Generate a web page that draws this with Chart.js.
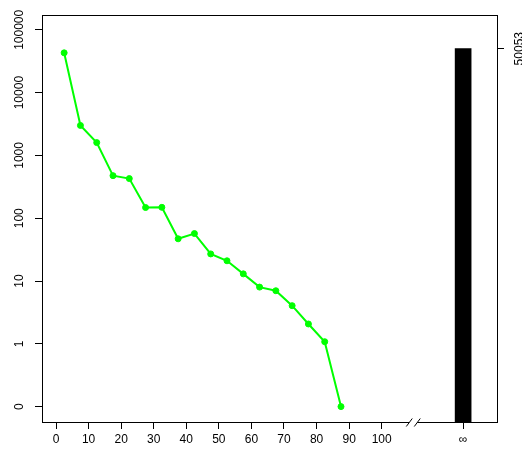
<!DOCTYPE html>
<html>
<head>
<meta charset="utf-8">
<script src="https://cdn.jsdelivr.net/npm/chart.js@4/dist/chart.umd.min.js"></script>
<style>
  html, body { margin: 0; padding: 0; background: #fff; }
  #wrap { width: 522px; height: 452px; }
</style>
</head>
<body>
<div id="wrap"><canvas id="chart" width="522" height="452"></canvas></div>
<script>
// bin midpoints and counts
var binMids = [2.5, 7.5, 12.5, 17.5, 22.5, 27.5, 32.5, 37.5, 42.5, 47.5, 52.5, 57.5, 62.5, 67.5, 72.5, 77.5, 82.5, 87.5]
var counts = [43000, 3000, 1600, 476, 428, 148, 149, 47, 57, 27, 21, 13, 8, 7, 4.05, 2.07, 1.08, 0]
var xTicks = [0, 10, 20, 30, 40, 50, 60, 70, 80, 90, 100]
var yTickLabels = ['0', '1', '10', '100', '1000', '10000', '100000']
var infLabel = '∞'
var infX = 125
var infCount = 50053
var breakX = 110

// log axis with a slot for zero: 0 -> 0, 1 -> 1, 10 -> 2 ...
function tf(v) {
  return v > 0 ? Math.log10(v) + 1 : 0
}

var Y_MIN = -0.245
var Y_MAX = 6.236
var FONT = '12px "Liberation Sans", Arial, sans-serif'

var points = binMids.map(function (x, i) {
  return { x: x, y: tf(counts[i]) }
})

var framePlugin = {
  id: 'frame',
  afterDraw: function (chart) {
    var ctx = chart.ctx
    var a = chart.chartArea
    var xs = chart.scales.x
    var ys = chart.scales.y
    var l = Math.round(a.left) + 0.5
    var r = Math.round(a.right) + 0.5
    var t = Math.round(a.top) + 0.5
    var b = Math.round(a.bottom) + 0.5

    ctx.save()
    ctx.strokeStyle = '#000'
    ctx.lineWidth = 1
    ctx.strokeRect(l, t, r - l, b - t)

    // axis break on the bottom line
    var bx = xs.getPixelForValue(breakX)
    ctx.fillStyle = '#fff'
    ctx.beginPath()
    ctx.moveTo(bx - 8, b + 4)
    ctx.lineTo(bx - 2, b - 4)
    ctx.lineTo(bx + 6, b - 4)
    ctx.lineTo(bx, b + 4)
    ctx.closePath()
    ctx.fill()
    ctx.beginPath()
    ctx.moveTo(bx - 8, b + 4)
    ctx.lineTo(bx - 2, b - 4)
    ctx.moveTo(bx, b + 4)
    ctx.lineTo(bx + 6, b - 4)
    ctx.stroke()

    // rotated y labels
    ctx.fillStyle = '#000'
    ctx.font = FONT
    ctx.textAlign = 'center'
    ctx.textBaseline = 'middle'
    yTickLabels.forEach(function (lab) {
      var py = ys.getPixelForValue(tf(Number(lab)))
      ctx.save()
      ctx.translate(20, py)
      ctx.rotate(-Math.PI / 2)
      ctx.fillText(lab, 0, 0)
      ctx.restore()
    })

    // right axis label for the infinity bar
    var py2 = chart.scales.y2.getPixelForValue(tf(infCount))
    ctx.save()
    ctx.translate(520, py2)
    ctx.rotate(-Math.PI / 2)
    ctx.fillText(String(infCount), 0, 0)
    ctx.restore()
    ctx.restore()
  }
}

var ctx = document.getElementById('chart').getContext('2d')
var chart = new Chart(ctx, {
  type: 'line',
  data: {
    datasets: [
      {
        type: 'line',
        data: points,
        borderColor: '#00ff00',
        backgroundColor: '#00ff00',
        borderWidth: 2,
        pointRadius: 3,
        pointBorderWidth: 1,
        tension: 0,
        xAxisID: 'x',
        yAxisID: 'y'
      },
      {
        type: 'bar',
        data: [{ x: infX, y: [Y_MIN, tf(infCount)] }],
        backgroundColor: '#000',
        borderWidth: 0,
        barThickness: 16,
        grouped: false,
        xAxisID: 'x',
        yAxisID: 'y'
      }
    ]
  },
  options: {
    responsive: false,
    animation: false,
    devicePixelRatio: 1,
    layout: { padding: { top: 15, left: 0, right: 0, bottom: 0 } },
    plugins: { legend: { display: false }, tooltip: { enabled: false } },
    scales: {
      x: {
        type: 'linear',
        min: -4.3,
        max: 135.4,
        offset: false,
        afterBuildTicks: function (s) {
          s.ticks = xTicks.concat([infX]).map(function (v) { return { value: v } })
        },
        afterFit: function (s) { s.height = 30 },
        ticks: {
          autoSkip: false,
          maxRotation: 0,
          minRotation: 0,
          padding: 3,
          color: '#000',
          font: { family: '"Liberation Sans", Arial, sans-serif', size: 12 },
          callback: function (v) { return v === infX ? infLabel : String(v) }
        },
        grid: { offset: false, drawOnChartArea: false, drawTicks: true, tickLength: 7, color: '#000' },
        border: { display: false }
      },
      y: {
        type: 'linear',
        position: 'left',
        min: Y_MIN,
        max: Y_MAX,
        afterBuildTicks: function (s) {
          s.ticks = yTickLabels.map(function (l) { return { value: tf(Number(l)) } })
        },
        afterFit: function (s) { s.width = 42 },
        ticks: { display: false },
        grid: { drawOnChartArea: false, drawTicks: true, tickLength: 7, color: '#000' },
        border: { display: false }
      },
      y2: {
        type: 'linear',
        position: 'right',
        min: Y_MIN,
        max: Y_MAX,
        afterBuildTicks: function (s) {
          s.ticks = [{ value: tf(infCount) }]
        },
        afterFit: function (s) { s.width = 25 },
        ticks: { display: false },
        grid: { drawOnChartArea: false, drawTicks: true, tickLength: 7, color: '#000' },
        border: { display: false }
      }
    }
  },
  plugins: [framePlugin]
})
</script>
</body>
</html>
